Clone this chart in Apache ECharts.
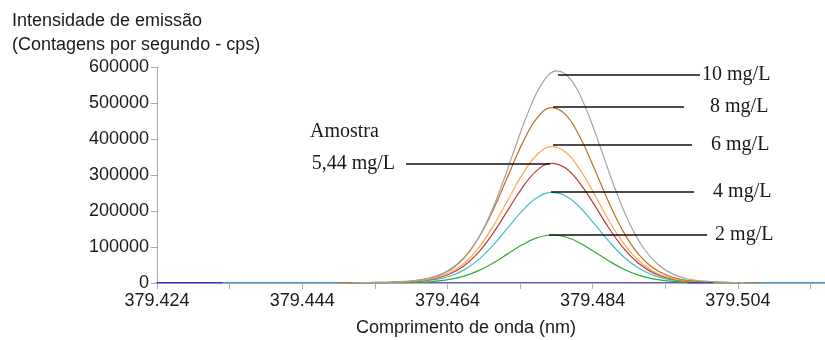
<!DOCTYPE html>
<html>
<head>
<meta charset="utf-8">
<script src="https://cdn.jsdelivr.net/npm/echarts@6/dist/echarts.min.js"></script>
<style>html,body{margin:0;padding:0;background:#fff}#c{width:825px;height:340px}</style>
</head>
<body>
<div id="c"></div>
<script>
// ---- data ----
const wavelengths = [379.4503,379.4523,379.4543,379.4563,379.4583,379.4603,379.4623,379.4643,379.4663,379.4683,379.4703,379.4723,379.4743,379.4763,379.4783,379.4803,379.4823,379.4843,379.4863,379.4883,379.4903,379.4923,379.4943,379.4963,379.4983,379.5003,379.5023,379.5043];
const wavelengthsGray = [379.4510,379.4530,379.4550,379.4570,379.4590,379.4610,379.4630,379.4650,379.4670,379.4690,379.4710,379.4730,379.4750,379.4770,379.4790,379.4810,379.4830,379.4850,379.4870,379.4890,379.4910,379.4930,379.4950,379.4970,379.4990,379.5010,379.5030,379.5050];
const std10 = [600,1200,1800,2900,5300,10600,21800,44200,85400,152000,245600,357500,468300,553100,589000,564900,488300,380500,266800,169000,97200,51200,25300,11800,5900,2900,1800,600];
const std8  = [500,1000,1500,2400,4400,8800,18000,36500,70600,125600,203100,295600,387200,457300,487000,467000,403700,314600,220600,139800,80400,42400,20900,9700,4900,2400,1500,500];
const std6  = [400,800,1100,1900,3400,6800,14000,28400,54900,97700,157900,229800,301000,355500,378600,363100,313900,244600,171500,108700,62500,32900,16300,7600,3800,1900,1100,400];
const amostra = [300,700,1000,1700,3000,6000,12300,24900,48200,85800,138700,201800,264300,312200,332500,318900,275600,214800,150600,95400,54900,28900,14300,6700,3300,1700,1000,300];
const std4  = [300,500,800,1300,2300,4500,9300,18900,36500,65000,105100,153000,200300,236600,252000,241700,208900,162800,114200,72300,41600,21900,10800,5000,2500,1300,800,300];
const std2  = [100,300,400,700,1200,2400,4900,10000,19300,34400,55600,80900,106000,125200,133300,127800,110500,86100,60400,38300,22000,11600,5700,2700,1300,700,400,100];
// zero-level baseline pieces
const baseBlueX = [379.424, 379.433, 379.465, 379.497, 379.5006];
const baseBlueY = [0, 0, null, 0, 0];
const cyanLeftX = [379.433, 379.4488], cyanRightX = [379.5068, 379.516];
const brownLeftX = [379.4488], brownRightX = [379.5068];
// axis ticks / labels
const xLabelValues = [379.424, 379.444, 379.464, 379.484, 379.504];
const xTickValues = [379.424, 379.434, 379.444, 379.454, 379.464, 379.474, 379.484, 379.494, 379.504, 379.514];
// annotations: [label, x start, x end, y]
const annot10 = ['10 mg/L', 379.47923, 379.49879, 577800];
const annot8  = ['8 mg/L', 379.47855, 379.49659, 489700];
const annot6  = ['6 mg/L', 379.47855, 379.49769, 383300];
const annotA  = ['5,44 mg/L', 379.45830, 379.47813, 332500];
const annot4  = ['4 mg/L', 379.47827, 379.49797, 253600];
const annot2  = ['2 mg/L', 379.47799, 379.49976, 133300];

const pairs = (xs, ys) => xs.map((x, i) => [x, ys[i]]);
const SANS = 'Liberation Sans, Arial, sans-serif';
const SERIF = 'Liberation Serif, Times New Roman, serif';
const TXT = '#1a1a1a';

function mark(a, pos, dist) {
  return {
    silent: true, symbol: ['none', 'none'], animation: false,
    lineStyle: { color: '#111', width: 1.5, type: 'solid' },
    label: { show: true, position: pos, distance: dist, formatter: a[0],
             fontFamily: SERIF, fontSize: 20, color: TXT },
    emphasis: { disabled: true },
    data: [[{ coord: [a[1], a[3]] }, { coord: [a[2], a[3]] }]]
  };
}
function line(name, data, color, ml) {
  const s = { name, type: 'line', data, showSymbol: false, smooth: 0.4,
    lineStyle: { color, width: 1.2 }, itemStyle: { color },
    emphasis: { disabled: true }, animation: false };
  if (ml) s.markLine = ml;
  return s;
}

const chart = echarts.init(document.getElementById('c'), null, { renderer: 'canvas' });
chart.setOption({
  animation: false,
  backgroundColor: '#fff',
  grid: { left: 157, top: 67, right: 0, bottom: 57, containLabel: false },
  xAxis: [{
    type: 'value', min: 379.424, max: 379.516, position: 'bottom',
    axisLine: { show: true, onZero: false, lineStyle: { color: '#5c5cda', width: 2 } },
    axisTick: { show: true, customValues: xTickValues, length: 6, lineStyle: { color: '#b0b0b0' } },
    axisLabel: { show: true, customValues: xLabelValues, formatter: v => v.toFixed(3),
                 fontFamily: SANS, fontSize: 18, color: TXT, margin: 9 },
    splitLine: { show: false }
  }, {
    type: 'value', min: 379.424, max: 379.516, position: 'top',
    axisLine: { show: true, lineStyle: { color: '#b4b4b4', width: 1 } },
    axisTick: { show: false }, axisLabel: { show: false }, splitLine: { show: false }
  }],
  yAxis: {
    type: 'value', min: 0, max: 600000, interval: 100000,
    axisLine: { show: true, lineStyle: { color: '#a8a8a8', width: 1 } },
    axisTick: { show: true, length: 6, lineStyle: { color: '#a8a8a8' } },
    axisLabel: { fontFamily: SANS, fontSize: 18, color: TXT, margin: 8, formatter: v => String(v) },
    splitLine: { show: false }
  },
  graphic: [
    { type: 'text', x: 12, y: 21, style: { text: 'Intensidade de emissão', font: '18px ' + SANS, fill: TXT, textVerticalAlign: 'middle' } },
    { type: 'text', x: 12, y: 45, style: { text: '(Contagens por segundo - cps)', font: '18px ' + SANS, fill: TXT, textVerticalAlign: 'middle' } },
    { type: 'text', x: 466, y: 328, style: { text: 'Comprimento de onda (nm)', font: '18px ' + SANS, fill: TXT, textAlign: 'center', textVerticalAlign: 'middle' } },
    { type: 'text', x: 310, y: 132, style: { text: 'Amostra', font: '20px ' + SERIF, fill: TXT, textVerticalAlign: 'middle' } }
  ],
  series: [
    line('4 mg/L', pairs(cyanLeftX.concat(wavelengths, cyanRightX), [0, 0].concat(std4, [0, 0])), '#3fbfc6', mark(annot4, 'end', 19)),
    line('2 mg/L', pairs(wavelengths, std2), '#33aa33', mark(annot2, 'end', 8)),
    line('Amostra 5,44 mg/L', pairs(wavelengths, amostra), '#c0393c', mark(annotA, 'start', 11)),
    line('6 mg/L', pairs(wavelengths, std6), '#ffa64d', mark(annot6, 'end', 19)),
    line('8 mg/L', pairs(brownLeftX.concat(wavelengths, brownRightX), [0].concat(std8, [0])), '#bd6f25', mark(annot8, 'end', 26)),
    line('10 mg/L', pairs(wavelengthsGray, std10), '#a4a4a4', mark(annot10, 'end', 2)),
    line('base', pairs(baseBlueX, baseBlueY), '#0a0ad0', null)
  ]
});
</script>
</body>
</html>
